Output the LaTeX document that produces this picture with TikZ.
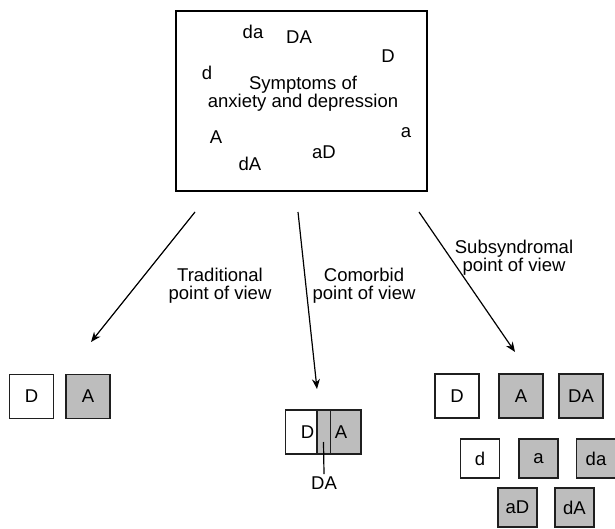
\documentclass[tikz,border=0pt]{standalone}
\usepackage{fontspec}
\setmainfont{Liberation Sans}
\usepackage{tikz}
\usetikzlibrary{arrows.meta}
\definecolor{boxgray}{gray}{0.74}
\definecolor{edgeblk}{gray}{0.12}
\newcommand{\diagfont}{\fontsize{9.25}{9.2}\selectfont}
\tikzset{
  every picture/.append style={font=\diagfont},
  symbox/.style = {draw=black, line width=0.8pt, minimum width=125.5pt,
                   minimum height=90pt, inner sep=0pt},
  box/.style    = {draw=edgeblk, line width=0.6pt, fill=white,
                   minimum size=22pt, inner sep=0pt},
  boxg/.style   = {box, fill=boxgray},
  boxs/.style   = {box, minimum size=19.5pt},
  boxsg/.style  = {boxs, fill=boxgray},
  lab/.style    = {align=center, inner sep=1pt},
  arr/.style    = {-{Stealth[length=5pt,width=4pt]}, line width=0.6pt},
}

\begin{document}
\begin{tikzpicture}[x=0.5pt,y=-0.5pt]
      \useasboundingbox (0,0) rectangle (615,529);
      % symptoms box
      \node[symbox] (sym) at (301.5,101) {};
      \node[lab] (symTxt) at (303,94) {Symptoms of\\anxiety and depression};
      \node[lab] (sda) at (253,32) {da};
      \node[lab] (sDA) at (299,37) {DA};
      \node[lab] (sD)  at (388,56) {D};
      \node[lab] (sd)  at (207,73) {d};
      \node[lab] (sA)  at (216,137) {A};
      \node[lab] (sa)  at (406,133) {a};
      \node[lab] (saD) at (324,152) {aD};
      \node[lab] (sdA) at (250,164) {dA};

      % three points of view
      \coordinate (trS) at (195,212);
      \coordinate (trE) at (91,342);
      \coordinate (coS) at (298,212);
      \coordinate (coE) at (317,389);
      \coordinate (suS) at (419,212);
      \coordinate (suE) at (515,352);
      \draw[arr] (trS) -- (trE);
      \draw[arr] (coS) -- (coE);
      \draw[arr] (suS) -- (suE);
      \node[lab] (trLab) at (220,286) {Traditional\\point of view};
      \node[lab] (coLab) at (364,286) {Comorbid\\point of view};
      \node[lab] (suLab) at (514,257.5) {Subsyndromal\\point of view};

      % traditional
      \node[box]  (tD) at (31.5,396.5) {D};
      \node[boxg] (tA) at (88,396.5) {A};

      % comorbid
      \node[box]  (mD) at (307.5,432) {D\hspace{6pt}};
      \node[boxg] (mA) at (339,432) {\hspace{2pt}A};
      \draw[draw=edgeblk, line width=0.6pt] (mD.north east) -- (mD.south east);
      \coordinate (mOv) at (323.5,442);
      \node[lab] (mDA) at (324,483) {DA};
      \draw[line width=0.6pt] (mOv) -- (mDA.north);

      % subsyndromal
      \node[box]   (uD)  at (457,396) {D};
      \node[boxg]  (uA)  at (521,396) {A};
      \node[boxg]  (uDA) at (581,396) {DA};
      \node[boxs]  (ud)  at (480,458.5) {d};
      \node[boxsg] (ua)  at (538.5,458.5) {a};
      \node[boxsg] (uda) at (596,458.5) {da};
      \node[boxsg] (uaD) at (517.5,507.5) {aD};
      \node[boxsg] (udA) at (574.5,507.5) {dA};
    \end{tikzpicture}
\end{document}
